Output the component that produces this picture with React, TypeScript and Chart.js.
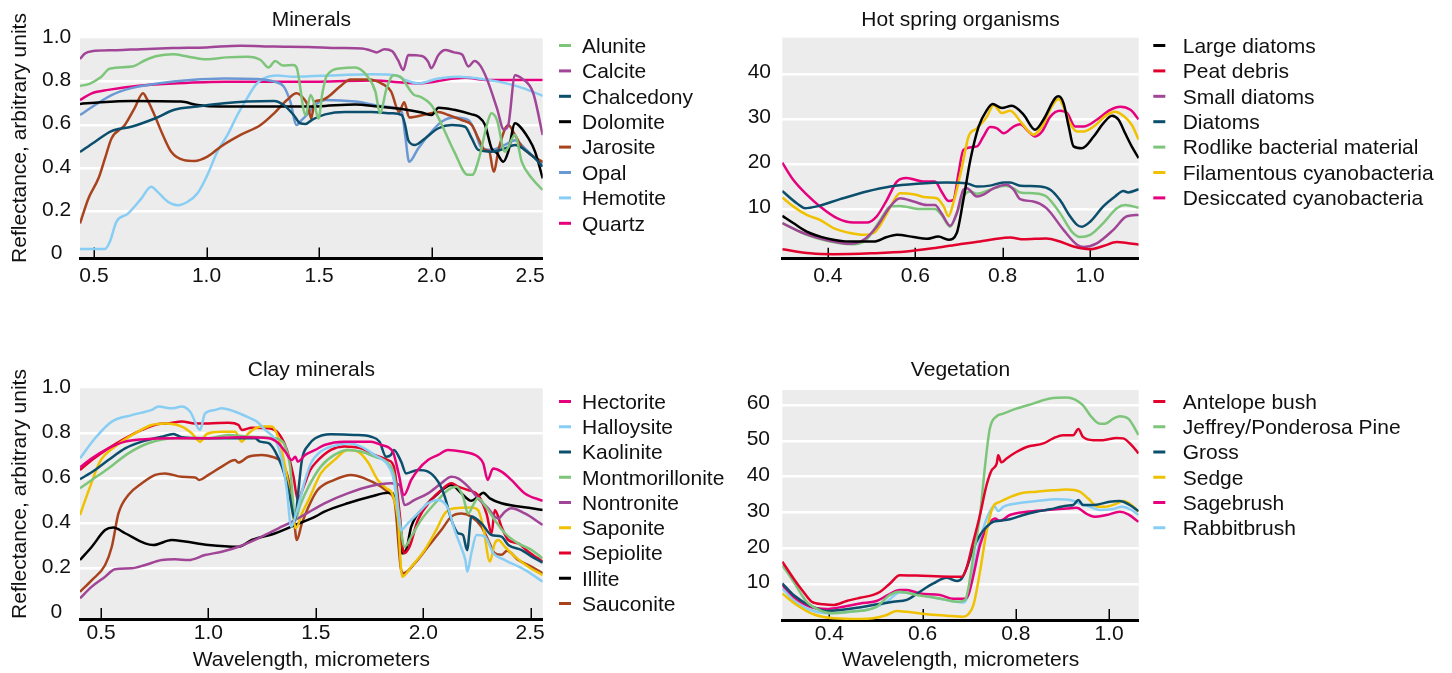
import { useEffect, useRef } from "react";
import { Chart, registerables } from "chart.js";

Chart.register(...registerables);

const FONT = "'Liberation Sans', Arial, Helvetica, sans-serif";
const FS = 21;
const TEXT = "#111111";
const BG = "#ececec";

const GREEN = "#7dc57a";
const PURPLE = "#a14597";
const TEAL = "#0b4f6c";
const BLACK = "#000000";
const BROWN = "#a8431e";
const OPAL = "#6a98d4";
const LIGHTBLUE = "#88cdf3";
const PINK = "#e6007e";
const RED = "#e2002d";
const YELLOW = "#efc100";

type Pt = [number, number];

// ---------------- Minerals ----------------
const mineralXTicks = [0.5, 1.0, 1.5, 2.0, 2.5];
const mineralXLabels = ["0.5", "1.0", "1.5", "2.0", "2.5"];
const mineralYTicks = [0, 0.2, 0.4, 0.6, 0.8, 1.0];
const mineralYLabels = ["0", "0.2", "0.4", "0.6", "0.8", "1.0"];
const mineralGrid = [0.2, 0.4, 0.6, 0.8];

const alunite: Pt[] = [[0.438,0.78],[0.48,0.79],[0.53,0.82],[0.57,0.86],[0.67,0.87],[0.73,0.9],[0.78,0.918],[0.85,0.926],[0.92,0.915],[1.0,0.903],[1.09,0.912],[1.18,0.915],[1.24,0.9],[1.275,0.865],[1.305,0.895],[1.34,0.874],[1.385,0.877],[1.4,0.865],[1.44,0.646],[1.462,0.738],[1.478,0.7],[1.497,0.63],[1.515,0.75],[1.535,0.83],[1.6,0.862],[1.66,0.865],[1.71,0.83],[1.75,0.754],[1.77,0.654],[1.8,0.77],[1.83,0.83],[1.86,0.823],[1.92,0.74],[1.95,0.73],[2.0,0.69],[2.045,0.6],[2.1,0.477],[2.16,0.37],[2.18,0.37],[2.21,0.446],[2.245,0.6],[2.265,0.654],[2.29,0.623],[2.325,0.477],[2.37,0.554],[2.4,0.43],[2.445,0.354],[2.493,0.3]];
const calcite: Pt[] = [[0.438,0.905],[0.46,0.93],[0.49,0.94],[0.6,0.945],[0.71,0.95],[0.85,0.955],[1.0,0.958],[1.15,0.966],[1.3,0.962],[1.45,0.96],[1.59,0.955],[1.69,0.953],[1.725,0.945],[1.756,0.935],[1.79,0.95],[1.825,0.94],[1.85,0.9],[1.874,0.854],[1.896,0.923],[1.956,0.918],[1.985,0.89],[1.997,0.862],[2.03,0.923],[2.06,0.946],[2.1,0.935],[2.135,0.925],[2.163,0.87],[2.19,0.895],[2.215,0.875],[2.244,0.815],[2.29,0.677],[2.32,0.58],[2.34,0.6],[2.37,0.83],[2.4,0.815],[2.45,0.75],[2.493,0.554]];
const chalcedony: Pt[] = [[0.438,0.475],[0.505,0.523],[0.578,0.572],[0.666,0.592],[0.77,0.63],[0.857,0.67],[0.96,0.685],[1.078,0.7],[1.18,0.708],[1.3,0.711],[1.343,0.692],[1.387,0.646],[1.416,0.608],[1.44,0.605],[1.47,0.625],[1.527,0.649],[1.615,0.66],[1.734,0.66],[1.822,0.654],[1.867,0.646],[1.882,0.6],[1.896,0.53],[1.926,0.508],[1.97,0.538],[2.03,0.585],[2.089,0.6],[2.148,0.592],[2.178,0.538],[2.207,0.485],[2.266,0.477],[2.325,0.492],[2.37,0.508],[2.414,0.485],[2.459,0.446],[2.493,0.408]];
const dolomite: Pt[] = [[0.438,0.697],[0.53,0.705],[0.666,0.711],[0.887,0.708],[0.96,0.692],[1.063,0.685],[1.3,0.685],[1.475,0.685],[1.527,0.688],[1.66,0.695],[1.763,0.685],[1.867,0.674],[1.956,0.658],[2.0,0.646],[2.03,0.68],[2.1,0.67],[2.178,0.649],[2.207,0.638],[2.237,0.6],[2.266,0.492],[2.29,0.47],[2.318,0.43],[2.34,0.477],[2.37,0.608],[2.385,0.6],[2.43,0.538],[2.459,0.477],[2.493,0.354]];
const jarosite: Pt[] = [[0.438,0.146],[0.475,0.26],[0.52,0.354],[0.549,0.446],[0.578,0.538],[0.637,0.6],[0.68,0.677],[0.718,0.746],[0.735,0.72],[0.762,0.662],[0.806,0.554],[0.843,0.477],[0.9,0.438],[0.946,0.434],[1.004,0.454],[1.063,0.5],[1.151,0.554],[1.24,0.6],[1.3,0.654],[1.357,0.715],[1.4,0.746],[1.433,0.72],[1.45,0.69],[1.465,0.63],[1.48,0.708],[1.51,0.715],[1.54,0.73],[1.59,0.775],[1.64,0.81],[1.72,0.81],[1.78,0.79],[1.82,0.754],[1.855,0.66],[1.878,0.705],[1.9,0.635],[1.97,0.648],[2.03,0.66],[2.074,0.646],[2.133,0.623],[2.178,0.6],[2.207,0.538],[2.237,0.485],[2.255,0.48],[2.275,0.385],[2.3,0.5],[2.34,0.6],[2.37,0.554],[2.4,0.5],[2.444,0.46],[2.493,0.43]];
const opal: Pt[] = [[0.438,0.646],[0.505,0.692],[0.578,0.738],[0.666,0.77],[0.784,0.792],[0.93,0.808],[1.078,0.815],[1.225,0.812],[1.3,0.8],[1.343,0.777],[1.372,0.708],[1.4,0.6],[1.42,0.62],[1.445,0.646],[1.475,0.685],[1.527,0.715],[1.66,0.708],[1.793,0.685],[1.867,0.66],[1.882,0.554],[1.9,0.43],[1.94,0.492],[2.0,0.57],[2.044,0.615],[2.1,0.634],[2.163,0.623],[2.193,0.57],[2.222,0.492],[2.266,0.485],[2.325,0.508],[2.37,0.53],[2.414,0.492],[2.46,0.446],[2.493,0.423]];
const hemotite: Pt[] = [[0.438,0.028],[0.549,0.028],[0.57,0.06],[0.6,0.154],[0.65,0.19],[0.71,0.26],[0.754,0.315],[0.784,0.29],[0.828,0.246],[0.872,0.23],[0.916,0.246],[0.96,0.285],[1.004,0.37],[1.048,0.477],[1.093,0.554],[1.137,0.646],[1.18,0.723],[1.218,0.785],[1.254,0.815],[1.313,0.828],[1.387,0.823],[1.586,0.83],[1.734,0.834],[1.837,0.83],[1.882,0.808],[1.94,0.792],[2.03,0.815],[2.118,0.823],[2.207,0.815],[2.296,0.8],[2.385,0.777],[2.493,0.735]];
const quartz: Pt[] = [[0.438,0.715],[0.49,0.746],[0.563,0.762],[0.71,0.782],[0.857,0.792],[1.078,0.8],[1.5,0.8],[1.734,0.805],[1.94,0.792],[2.1,0.815],[2.15,0.818],[2.237,0.808],[2.493,0.808]];

// ---------------- Hot spring organisms ----------------
const springXTicks = [0.4, 0.6, 0.8, 1.0];
const springXLabels = ["0.4", "0.6", "0.8", "1.0"];
const springYTicks = [10, 20, 30, 40];
const springYLabels = ["10", "20", "30", "40"];

const largeDiatoms: Pt[] = [[0.296,8.5],[0.321,6.9],[0.352,5.0],[0.398,3.5],[0.451,2.8],[0.505,2.8],[0.535,3.8],[0.558,4.3],[0.596,3.8],[0.626,3.4],[0.653,3.9],[0.676,3.2],[0.695,4.7],[0.71,12.0],[0.726,20.9],[0.745,28.3],[0.764,32.0],[0.777,33.3],[0.798,32.4],[0.821,32.9],[0.848,30.9],[0.874,27.6],[0.893,29.8],[0.92,34.6],[0.928,35.0],[0.939,33.5],[0.951,28.3],[0.962,23.9],[0.981,23.5],[1.008,26.1],[1.03,29.0],[1.05,30.7],[1.065,29.8],[1.08,26.8],[1.095,23.9],[1.111,21.3]];
const peatDebris: Pt[] = [[0.296,1.1],[0.36,0.2],[0.413,0.0],[0.5,0.2],[0.58,0.6],[0.64,1.3],[0.695,2.1],[0.748,2.8],[0.779,3.3],[0.817,3.7],[0.848,3.3],[0.9,3.5],[0.931,2.8],[0.962,1.7],[1.0,1.1],[1.03,1.8],[1.061,2.7],[1.084,2.5],[1.111,2.1]];
const smallDiatoms: Pt[] = [[0.296,6.9],[0.344,4.7],[0.413,2.8],[0.451,2.3],[0.482,3.2],[0.512,6.1],[0.543,10.6],[0.565,12.4],[0.596,11.7],[0.626,10.9],[0.645,10.9],[0.66,9.1],[0.68,6.3],[0.695,9.1],[0.71,14.3],[0.718,14.6],[0.741,12.8],[0.756,13.2],[0.779,14.6],[0.809,15.4],[0.825,14.3],[0.84,12.2],[0.87,11.7],[0.9,10.2],[0.939,5.4],[0.97,2.1],[0.985,1.6],[1.015,2.4],[1.053,5.4],[1.084,8.4],[1.111,8.7]];
const diatoms: Pt[] = [[0.296,14.0],[0.329,11.3],[0.348,10.2],[0.375,10.6],[0.428,12.2],[0.489,13.9],[0.543,15.0],[0.604,15.6],[0.672,15.9],[0.718,15.7],[0.741,15.0],[0.771,15.2],[0.802,15.9],[0.817,15.9],[0.84,15.2],[0.886,15.0],[0.909,14.3],[0.931,12.0],[0.954,8.4],[0.97,6.5],[0.981,6.1],[1.0,7.2],[1.03,10.6],[1.057,12.8],[1.076,14.0],[1.087,13.7],[1.111,14.4]];
const rodlike: Pt[] = [[0.296,6.9],[0.352,4.3],[0.428,2.4],[0.459,2.2],[0.489,3.3],[0.52,7.6],[0.543,10.6],[0.565,10.7],[0.611,10.0],[0.645,10.0],[0.66,8.7],[0.68,6.1],[0.695,9.1],[0.71,12.8],[0.726,13.9],[0.741,13.4],[0.771,14.3],[0.806,15.2],[0.825,14.6],[0.84,13.7],[0.87,13.5],[0.9,12.8],[0.931,9.1],[0.958,5.0],[0.977,3.8],[1.0,4.3],[1.03,6.9],[1.061,10.2],[1.08,10.9],[1.111,10.3]];
const filamentous: Pt[] = [[0.296,12.6],[0.321,10.6],[0.352,8.7],[0.382,7.6],[0.413,5.8],[0.451,4.7],[0.482,4.3],[0.505,4.7],[0.527,7.6],[0.55,11.7],[0.565,13.5],[0.596,13.3],[0.626,12.6],[0.649,12.4],[0.665,10.6],[0.676,8.4],[0.687,11.3],[0.707,19.4],[0.722,26.1],[0.741,27.9],[0.764,30.5],[0.779,33.1],[0.798,31.3],[0.817,31.8],[0.844,29.0],[0.87,26.5],[0.89,28.3],[0.912,32.7],[0.928,34.4],[0.939,32.7],[0.954,29.0],[0.97,27.2],[0.985,27.2],[1.008,28.3],[1.038,30.9],[1.057,31.6],[1.076,30.7],[1.095,28.7],[1.111,25.4]];
const desiccated: Pt[] = [[0.296,20.3],[0.321,16.5],[0.352,13.2],[0.382,10.6],[0.421,8.0],[0.459,7.0],[0.489,7.0],[0.512,8.4],[0.535,12.0],[0.558,16.1],[0.58,16.9],[0.619,16.1],[0.645,16.1],[0.66,13.9],[0.676,11.8],[0.687,12.0],[0.699,18.0],[0.71,23.1],[0.741,23.9],[0.756,26.1],[0.771,28.2],[0.787,27.9],[0.802,26.8],[0.825,28.3],[0.84,28.8],[0.859,27.2],[0.874,26.1],[0.89,27.2],[0.909,30.5],[0.931,31.8],[0.947,31.3],[0.966,28.3],[0.985,28.3],[1.015,29.8],[1.046,32.0],[1.069,32.7],[1.092,32.0],[1.111,29.9]];

// ---------------- Clay minerals ----------------
const clayXTicks = [0.5, 1.0, 1.5, 2.0, 2.5];
const clayXLabels = ["0.5", "1.0", "1.5", "2.0", "2.5"];
const clayYTicks = [0, 0.2, 0.4, 0.6, 0.8, 1.0];
const clayYLabels = ["0", "0.2", "0.4", "0.6", "0.8", "1.0"];
const clayGrid = [0.2, 0.4, 0.6, 0.8];

const hectorite: Pt[] = [[0.402,0.649],[0.457,0.689],[0.534,0.733],[0.612,0.763],[0.69,0.773],[0.845,0.778],[1.0,0.778],[1.155,0.782],[1.28,0.778],[1.326,0.756],[1.357,0.719],[1.388,0.681],[1.404,0.696],[1.416,0.674],[1.45,0.704],[1.497,0.726],[1.54,0.748],[1.632,0.763],[1.757,0.763],[1.804,0.748],[1.858,0.719],[1.885,0.622],[1.91,0.526],[1.944,0.593],[1.975,0.637],[2.022,0.681],[2.069,0.704],[2.115,0.726],[2.178,0.719],[2.255,0.696],[2.279,0.667],[2.3,0.593],[2.325,0.644],[2.364,0.63],[2.41,0.593],[2.473,0.533],[2.556,0.5]];
const halloysite: Pt[] = [[0.402,0.689],[0.472,0.778],[0.55,0.852],[0.643,0.881],[0.736,0.904],[0.767,0.919],[0.829,0.911],[0.876,0.919],[0.915,0.896],[0.961,0.815],[0.984,0.889],[1.031,0.904],[1.062,0.911],[1.124,0.896],[1.179,0.874],[1.225,0.852],[1.264,0.815],[1.311,0.77],[1.342,0.681],[1.365,0.548],[1.385,0.385],[1.41,0.45],[1.45,0.593],[1.477,0.667],[1.523,0.719],[1.6,0.748],[1.648,0.756],[1.71,0.741],[1.773,0.704],[1.835,0.659],[1.863,0.593],[1.88,0.474],[1.897,0.37],[1.928,0.4],[1.975,0.444],[2.022,0.489],[2.069,0.504],[2.115,0.467],[2.146,0.37],[2.178,0.289],[2.196,0.237],[2.205,0.185],[2.224,0.267],[2.248,0.348],[2.287,0.341],[2.326,0.267],[2.38,0.237],[2.473,0.193],[2.556,0.141]];
const kaolinite: Pt[] = [[0.402,0.596],[0.472,0.637],[0.534,0.681],[0.612,0.733],[0.69,0.763],[0.783,0.785],[0.837,0.797],[0.876,0.782],[1.0,0.778],[1.217,0.778],[1.24,0.763],[1.28,0.756],[1.311,0.719],[1.342,0.652],[1.373,0.548],[1.404,0.415],[1.416,0.519],[1.435,0.681],[1.466,0.748],[1.497,0.778],[1.57,0.796],[1.679,0.793],[1.757,0.785],[1.796,0.763],[1.827,0.696],[1.85,0.704],[1.863,0.726],[1.897,0.674],[1.92,0.622],[1.975,0.637],[2.022,0.63],[2.069,0.585],[2.1,0.519],[2.131,0.415],[2.162,0.356],[2.185,0.348],[2.204,0.281],[2.224,0.43],[2.271,0.4],[2.318,0.348],[2.364,0.341],[2.396,0.304],[2.458,0.281],[2.505,0.252],[2.556,0.225]];
const montmorillonite: Pt[] = [[0.402,0.556],[0.457,0.593],[0.534,0.644],[0.627,0.711],[0.72,0.756],[0.845,0.778],[1.0,0.778],[1.093,0.793],[1.186,0.785],[1.311,0.778],[1.35,0.756],[1.38,0.652],[1.404,0.415],[1.427,0.48],[1.466,0.563],[1.523,0.652],[1.586,0.704],[1.648,0.726],[1.71,0.719],[1.773,0.696],[1.835,0.667],[1.866,0.607],[1.89,0.415],[1.913,0.296],[1.944,0.341],[1.99,0.415],[2.069,0.504],[2.115,0.548],[2.154,0.563],[2.185,0.519],[2.209,0.444],[2.232,0.481],[2.255,0.511],[2.294,0.47],[2.333,0.415],[2.38,0.356],[2.442,0.311],[2.505,0.281],[2.556,0.244]];
const nontronite: Pt[] = [[0.402,0.067],[0.457,0.119],[0.519,0.163],[0.565,0.196],[0.643,0.2],[0.705,0.215],[0.783,0.237],[0.845,0.24],[0.907,0.237],[0.984,0.259],[1.062,0.274],[1.14,0.296],[1.248,0.341],[1.326,0.378],[1.388,0.407],[1.45,0.44],[1.54,0.489],[1.648,0.533],[1.757,0.566],[1.85,0.578],[1.89,0.57],[1.913,0.481],[1.96,0.504],[2.022,0.533],[2.084,0.578],[2.131,0.607],[2.162,0.6],[2.209,0.563],[2.255,0.511],[2.302,0.467],[2.333,0.43],[2.349,0.422],[2.38,0.452],[2.41,0.467],[2.473,0.444],[2.556,0.393]];
const saponite: Pt[] = [[0.402,0.437],[0.449,0.563],[0.495,0.674],[0.565,0.741],[0.658,0.8],[0.736,0.837],[0.798,0.844],[0.876,0.83],[0.922,0.8],[0.961,0.763],[0.992,0.797],[1.062,0.807],[1.124,0.807],[1.155,0.763],[1.186,0.8],[1.248,0.83],[1.295,0.83],[1.326,0.778],[1.357,0.652],[1.388,0.474],[1.407,0.378],[1.435,0.444],[1.466,0.504],[1.523,0.622],[1.586,0.681],[1.648,0.726],[1.695,0.719],[1.741,0.674],[1.788,0.593],[1.827,0.556],[1.858,0.526],[1.882,0.415],[1.902,0.163],[1.944,0.207],[2.006,0.281],[2.06,0.37],[2.1,0.444],[2.146,0.467],[2.224,0.47],[2.255,0.459],[2.279,0.385],[2.31,0.23],[2.333,0.311],[2.349,0.326],[2.38,0.296],[2.427,0.252],[2.489,0.207],[2.556,0.17]];
const sepiolite: Pt[] = [[0.402,0.637],[0.457,0.681],[0.534,0.733],[0.612,0.778],[0.69,0.815],[0.767,0.841],[0.814,0.844],[0.876,0.852],[0.938,0.844],[1.0,0.844],[1.093,0.847],[1.14,0.837],[1.155,0.815],[1.202,0.825],[1.28,0.822],[1.326,0.8],[1.365,0.726],[1.396,0.607],[1.416,0.504],[1.443,0.563],[1.474,0.637],[1.497,0.667],[1.57,0.726],[1.632,0.741],[1.71,0.733],[1.773,0.704],[1.835,0.681],[1.863,0.652],[1.89,0.444],[1.91,0.267],[1.936,0.296],[1.975,0.415],[2.037,0.504],[2.084,0.548],[2.131,0.578],[2.162,0.563],[2.209,0.548],[2.255,0.526],[2.294,0.444],[2.318,0.356],[2.333,0.459],[2.364,0.385],[2.396,0.326],[2.442,0.311],[2.489,0.274],[2.556,0.23]];
const illite: Pt[] = [[0.402,0.237],[0.457,0.296],[0.519,0.37],[0.557,0.381],[0.612,0.356],[0.705,0.311],[0.744,0.304],[0.829,0.326],[0.891,0.319],[1.0,0.304],[1.14,0.296],[1.202,0.326],[1.311,0.356],[1.404,0.393],[1.497,0.43],[1.54,0.452],[1.648,0.489],[1.757,0.519],[1.835,0.536],[1.858,0.533],[1.879,0.444],[1.9,0.267],[1.92,0.281],[1.944,0.385],[2.006,0.474],[2.069,0.533],[2.131,0.57],[2.178,0.533],[2.224,0.5],[2.255,0.519],[2.279,0.536],[2.31,0.511],[2.364,0.489],[2.427,0.477],[2.505,0.467],[2.556,0.459]];
const sauconite: Pt[] = [[0.402,0.096],[0.457,0.148],[0.519,0.215],[0.55,0.296],[0.581,0.444],[0.627,0.526],[0.69,0.578],[0.752,0.615],[0.798,0.622],[0.876,0.607],[0.938,0.604],[0.957,0.593],[1.0,0.615],[1.062,0.652],[1.124,0.681],[1.14,0.67],[1.186,0.696],[1.248,0.704],[1.295,0.696],[1.342,0.67],[1.373,0.593],[1.396,0.444],[1.411,0.326],[1.435,0.4],[1.466,0.474],[1.508,0.548],[1.586,0.593],[1.664,0.615],[1.726,0.6],[1.804,0.563],[1.843,0.533],[1.866,0.5],[1.897,0.193],[1.908,0.178],[1.96,0.222],[2.022,0.296],[2.084,0.37],[2.131,0.43],[2.178,0.444],[2.224,0.43],[2.271,0.385],[2.302,0.326],[2.333,0.267],[2.364,0.26],[2.39,0.278],[2.442,0.237],[2.505,0.207],[2.556,0.178]];

// ---------------- Vegetation ----------------
const vegXTicks = [0.4, 0.6, 0.8, 1.0];
const vegXLabels = ["0.4", "0.6", "0.8", "1.0"];
const vegYTicks = [10, 20, 30, 40, 50, 60];
const vegYLabels = ["10", "20", "30", "40", "50", "60"];

const antelopeBush: Pt[] = [[0.299,16.3],[0.323,11.6],[0.344,7.9],[0.362,5.1],[0.387,4.4],[0.409,4.2],[0.437,5.3],[0.466,6.2],[0.494,7.0],[0.509,7.9],[0.53,10.2],[0.551,12.5],[0.587,12.4],[0.659,12.1],[0.684,12.1],[0.694,14.4],[0.705,20.0],[0.723,29.3],[0.737,37.6],[0.748,41.8],[0.759,43.7],[0.762,46.0],[0.769,44.0],[0.78,45.1],[0.801,46.9],[0.823,48.3],[0.859,49.3],[0.88,50.7],[0.901,51.6],[0.923,51.6],[0.934,53.3],[0.944,51.1],[0.966,50.2],[0.987,50.2],[1.016,50.8],[1.03,50.7],[1.048,48.8],[1.063,46.5]];
const jeffreyPine: Pt[] = [[0.299,15.3],[0.323,10.7],[0.351,5.1],[0.387,2.3],[0.409,1.9],[0.444,2.3],[0.48,2.8],[0.501,3.7],[0.53,7.0],[0.551,7.9],[0.587,7.0],[0.637,6.0],[0.673,5.1],[0.691,5.6],[0.698,8.8],[0.709,18.1],[0.723,29.3],[0.734,43.2],[0.744,53.4],[0.759,56.9],[0.773,57.6],[0.801,59.0],[0.837,60.4],[0.873,61.8],[0.909,62.1],[0.926,61.6],[0.944,59.9],[0.962,56.7],[0.98,54.8],[0.991,54.8],[1.009,56.2],[1.023,56.9],[1.041,56.2],[1.051,54.4],[1.063,51.6]];
const gross: Pt[] = [[0.299,10.2],[0.323,7.0],[0.359,4.0],[0.394,2.5],[0.423,2.8],[0.459,3.4],[0.494,4.2],[0.537,5.1],[0.566,5.6],[0.594,7.9],[0.623,10.2],[0.651,11.8],[0.673,10.9],[0.684,11.6],[0.694,14.4],[0.709,20.0],[0.723,23.7],[0.737,26.0],[0.751,27.4],[0.766,27.7],[0.787,28.1],[0.816,29.3],[0.844,30.2],[0.873,30.9],[0.909,31.9],[0.923,32.1],[0.934,33.5],[0.944,32.1],[0.973,32.2],[1.001,33.0],[1.023,33.2],[1.044,32.1],[1.063,30.4]];
const sedge: Pt[] = [[0.299,7.4],[0.33,4.2],[0.366,1.6],[0.409,0.5],[0.466,0.3],[0.494,0.5],[0.523,1.4],[0.544,2.5],[0.566,2.3],[0.609,1.6],[0.651,1.2],[0.687,0.9],[0.698,1.6],[0.709,4.2],[0.723,13.5],[0.737,24.6],[0.751,31.6],[0.766,33.0],[0.78,33.9],[0.809,35.3],[0.844,35.8],[0.88,36.2],[0.909,36.4],[0.937,35.8],[0.955,33.9],[0.976,31.6],[0.991,31.6],[1.016,32.5],[1.03,33.2],[1.048,32.1],[1.063,30.2]];
const sagebrush: Pt[] = [[0.299,9.8],[0.323,6.5],[0.359,3.7],[0.394,3.1],[0.43,3.7],[0.466,4.6],[0.501,5.3],[0.526,7.0],[0.551,8.4],[0.566,8.4],[0.594,7.4],[0.637,7.0],[0.666,5.9],[0.687,5.9],[0.698,7.0],[0.709,12.5],[0.723,20.9],[0.737,25.6],[0.755,28.3],[0.766,27.7],[0.787,29.3],[0.823,30.2],[0.866,30.7],[0.909,31.1],[0.93,31.3],[0.951,29.7],[0.969,28.8],[0.994,29.3],[1.023,30.2],[1.041,29.5],[1.063,27.4]];
const rabbitbrush: Pt[] = [[0.299,8.8],[0.323,5.6],[0.359,2.8],[0.401,1.9],[0.444,2.3],[0.494,3.3],[0.523,5.1],[0.551,7.7],[0.58,7.4],[0.623,6.3],[0.659,5.4],[0.687,4.9],[0.698,7.0],[0.712,16.3],[0.73,25.6],[0.748,31.1],[0.755,31.6],[0.762,30.4],[0.773,31.6],[0.801,32.5],[0.844,33.2],[0.887,33.7],[0.923,33.3],[0.937,32.5],[0.959,31.6],[0.98,30.7],[1.009,31.0],[1.027,31.6],[1.048,30.7],[1.063,29.3]];

interface Series { label: string; color: string; data: Pt[] }
interface PanelSpec {
  key: string;
  title: string; titleY: number;
  left: number; top: number; w: number; h: number;
  padTop: number; padRight: number; yWidth: number; xHeight: number;
  xMin: number; xMax: number; yMin: number; yMax: number;
  xTicks: number[]; xLabels: string[];
  yTicks: number[]; yLabels: string[]; grid: number[];
  yPad: number; xLabelOffset: number;
  yTitle?: string; yTitleX?: number; yTitleY?: number;
  xTitle?: string;
  legDash0: number; legDash1: number; legText: number; legY0: number; legStep: number;
  series: Series[];
}

const PANELS: PanelSpec[] = [
  {
    key: "minerals", title: "Minerals", titleY: 20,
    left: 0, top: 0, w: 726, h: 330,
    padTop: 38.3, padRight: 183.3, yWidth: 80, xHeight: 71.5,
    xMin: 0.438, xMax: 2.493, yMin: -0.016, yMax: 1.0,
    xTicks: mineralXTicks, xLabels: mineralXLabels,
    yTicks: mineralYTicks, yLabels: mineralYLabels, grid: mineralGrid,
    yPad: 8.7, xLabelOffset: 17.5,
    yTitle: "Reflectance, arbitrary units", yTitleX: 20, yTitleY: 138,
    legDash0: 559, legDash1: 571, legText: 582, legY0: 47, legStep: 25.4,
    series: [
      { label: "Alunite", color: GREEN, data: alunite },
      { label: "Calcite", color: PURPLE, data: calcite },
      { label: "Chalcedony", color: TEAL, data: chalcedony },
      { label: "Dolomite", color: BLACK, data: dolomite },
      { label: "Jarosite", color: BROWN, data: jarosite },
      { label: "Opal", color: OPAL, data: opal },
      { label: "Hemotite", color: LIGHTBLUE, data: hemotite },
      { label: "Quartz", color: PINK, data: quartz },
    ],
  },
  {
    key: "spring", title: "Hot spring organisms", titleY: 20,
    left: 726, top: 0, w: 726, h: 330,
    padTop: 37.7, padRight: 313.3, yWidth: 56.3, xHeight: 71.3,
    xMin: 0.296, xMax: 1.111, yMin: -1, yMax: 48,
    xTicks: springXTicks, xLabels: springXLabels,
    yTicks: springYTicks, yLabels: springYLabels, grid: springYTicks,
    yPad: 11.3, xLabelOffset: 17.2,
    legDash0: 427.3, legDash1: 439.3, legText: 456.7, legY0: 47, legStep: 25.4,
    series: [
      { label: "Large diatoms", color: BLACK, data: largeDiatoms },
      { label: "Peat debris", color: RED, data: peatDebris },
      { label: "Small diatoms", color: PURPLE, data: smallDiatoms },
      { label: "Diatoms", color: TEAL, data: diatoms },
      { label: "Rodlike bacterial material", color: GREEN, data: rodlike },
      { label: "Filamentous cyanobacteria", color: YELLOW, data: filamentous },
      { label: "Desiccated cyanobacteria", color: PINK, data: desiccated },
    ],
  },
  {
    key: "clay", title: "Clay minerals", titleY: 20,
    left: 0, top: 350, w: 726, h: 323,
    padTop: 38.3, padRight: 183.3, yWidth: 80, xHeight: 54,
    xMin: 0.402, xMax: 2.556, yMin: -0.025, yMax: 1.0,
    xTicks: clayXTicks, xLabels: clayXLabels,
    yTicks: clayYTicks, yLabels: clayYLabels, grid: clayGrid,
    yPad: 9.1, xLabelOffset: 13.8,
    yTitle: "Reflectance, arbitrary units", yTitleX: 20, yTitleY: 144,
    xTitle: "Wavelength, micrometers",
    legDash0: 559, legDash1: 571, legText: 582, legY0: 53, legStep: 25.25,
    series: [
      { label: "Hectorite", color: PINK, data: hectorite },
      { label: "Halloysite", color: LIGHTBLUE, data: halloysite },
      { label: "Kaolinite", color: TEAL, data: kaolinite },
      { label: "Montmorillonite", color: GREEN, data: montmorillonite },
      { label: "Nontronite", color: PURPLE, data: nontronite },
      { label: "Saponite", color: YELLOW, data: saponite },
      { label: "Sepiolite", color: RED, data: sepiolite },
      { label: "Illite", color: BLACK, data: illite },
      { label: "Sauconite", color: BROWN, data: sauconite },
    ],
  },
  {
    key: "veg", title: "Vegetation", titleY: 20.5,
    left: 726, top: 350, w: 726, h: 323,
    padTop: 40, padRight: 313.3, yWidth: 56.3, xHeight: 53,
    xMin: 0.299, xMax: 1.0634, yMin: 0, yMax: 64.2,
    xTicks: vegXTicks, xLabels: vegXLabels,
    yTicks: vegYTicks, yLabels: vegYLabels, grid: vegYTicks,
    yPad: 12.3, xLabelOffset: 14,
    xTitle: "Wavelength, micrometers",
    legDash0: 427.3, legDash1: 439.3, legText: 456.7, legY0: 53, legStep: 25.25,
    series: [
      { label: "Antelope bush", color: RED, data: antelopeBush },
      { label: "Jeffrey/Ponderosa Pine", color: GREEN, data: jeffreyPine },
      { label: "Gross", color: TEAL, data: gross },
      { label: "Sedge", color: YELLOW, data: sedge },
      { label: "Sagebrush", color: PINK, data: sagebrush },
      { label: "Rabbitbrush", color: LIGHTBLUE, data: rabbitbrush },
    ],
  },
];

function makeDeco(p: PanelSpec) {
  return {
    id: "deco_" + p.key,
    beforeDraw(chart: any) {
      const { ctx, chartArea: a } = chart;
      ctx.save();
      ctx.fillStyle = BG;
      ctx.fillRect(a.left, a.top, a.right - a.left, a.bottom - a.top);
      ctx.restore();
    },
    beforeDatasetsDraw(chart: any) {
      const { ctx, chartArea: a } = chart;
      const xs = chart.scales.x;
      ctx.save();
      ctx.strokeStyle = "#000";
      ctx.lineWidth = 1.5;
      p.xTicks.forEach((v) => {
        const px = Math.round(xs.getPixelForValue(v)) + 0.25;
        if (px < a.left + 1 || px > a.right - 1) return;
        ctx.beginPath();
        ctx.moveTo(px, a.bottom);
        ctx.lineTo(px, a.bottom - 11);
        ctx.stroke();
      });
      ctx.restore();
    },
    afterDraw(chart: any) {
      const { ctx, chartArea: a } = chart;
      const xs = chart.scales.x;
      ctx.save();
      ctx.font = `${FS}px ${FONT}`;
      ctx.fillStyle = TEXT;
      ctx.textAlign = "center";
      ctx.textBaseline = "middle";
      // panel title, centred on the plot area
      ctx.fillText(p.title, (a.left + a.right) / 2, p.titleY);
      // x tick labels (kept inside the plot's right edge)
      p.xTicks.forEach((v, i) => {
        const label = p.xLabels[i];
        const w = ctx.measureText(label).width;
        let cx = xs.getPixelForValue(v);
        cx = Math.min(cx, a.right + 2 - w / 2);
        ctx.fillText(label, cx, a.bottom + p.xLabelOffset);
      });
      // y axis title
      if (p.yTitle) {
        ctx.save();
        ctx.translate(p.yTitleX!, p.yTitleY!);
        ctx.rotate(-Math.PI / 2);
        ctx.fillText(p.yTitle, 0, 0);
        ctx.restore();
      }
      // legend
      ctx.textAlign = "left";
      p.series.forEach((s, i) => {
        const y = p.legY0 + i * p.legStep;
        ctx.strokeStyle = s.color;
        ctx.lineWidth = 3;
        ctx.beginPath();
        ctx.moveTo(p.legDash0, y - 1.5);
        ctx.lineTo(p.legDash1, y - 1.5);
        ctx.stroke();
        ctx.fillStyle = TEXT;
        ctx.fillText(s.label, p.legText, y);
      });
      ctx.restore();
    },
  };
}

function buildConfig(p: PanelSpec): any {
  const font = { family: FONT, size: FS, weight: "normal" as const };
  return {
    type: "line",
    data: {
      datasets: p.series.map((s) => ({
        label: s.label,
        data: s.data.map(([x, y]) => ({ x, y })),
        borderColor: s.color,
        backgroundColor: s.color,
        borderWidth: 2.5,
        pointRadius: 0,
        pointHoverRadius: 0,
        cubicInterpolationMode: "monotone",
        fill: false,
      })),
    },
    options: {
      responsive: false,
      maintainAspectRatio: false,
      animation: false,
      devicePixelRatio: 1,
      events: [],
      layout: { padding: { left: 0, right: p.padRight, top: p.padTop, bottom: 0 } },
      plugins: {
        legend: { display: false },
        tooltip: { enabled: false },
        title: { display: false },
      },
      scales: {
        x: {
          type: "linear",
          min: p.xMin,
          max: p.xMax,
          afterFit: (s: any) => { s.height = p.xHeight; },
          afterBuildTicks: (s: any) => { s.ticks = p.xTicks.map((v) => ({ value: v })); },
          grid: { display: false, drawTicks: false },
          border: { display: true, color: "#000", width: 3 },
          ticks: { display: false },
          title: p.xTitle
            ? { display: true, text: p.xTitle, color: TEXT, font, padding: { top: 0, bottom: 0 } }
            : { display: false },
        },
        y: {
          type: "linear",
          min: p.yMin,
          max: p.yMax,
          afterFit: (s: any) => { s.width = p.yWidth; },
          afterBuildTicks: (s: any) => { s.ticks = p.yTicks.map((v) => ({ value: v })); },
          grid: {
            drawTicks: false,
            lineWidth: 2.5,
            color: (c: any) => (c.tick && p.grid.includes(c.tick.value) ? "#ffffff" : "rgba(0,0,0,0)"),
          },
          border: { display: false },
          ticks: {
            padding: p.yPad,
            crossAlign: "center",
            labelOffset: -1.5,
            color: TEXT,
            font,
            callback: (_v: any, i: number) => p.yLabels[i],
          },
        },
      },
    },
    plugins: [makeDeco(p)],
  };
}

function Panel({ spec }: { spec: PanelSpec }) {
  const ref = useRef<HTMLCanvasElement>(null);
  useEffect(() => {
    if (!ref.current) return;
    const chart = new Chart(ref.current, buildConfig(spec));
    return () => chart.destroy();
  }, [spec]);
  return (
    <canvas
      ref={ref}
      width={spec.w}
      height={spec.h}
      style={{ position: "absolute", left: spec.left, top: spec.top, width: spec.w, height: spec.h }}
    />
  );
}

export default function App() {
  return (
    <div style={{ position: "absolute", left: 0, top: 0, width: 1452, height: 673, background: "#fff", overflow: "hidden" }}>
      {PANELS.map((p) => (
        <Panel key={p.key} spec={p} />
      ))}
    </div>
  );
}
